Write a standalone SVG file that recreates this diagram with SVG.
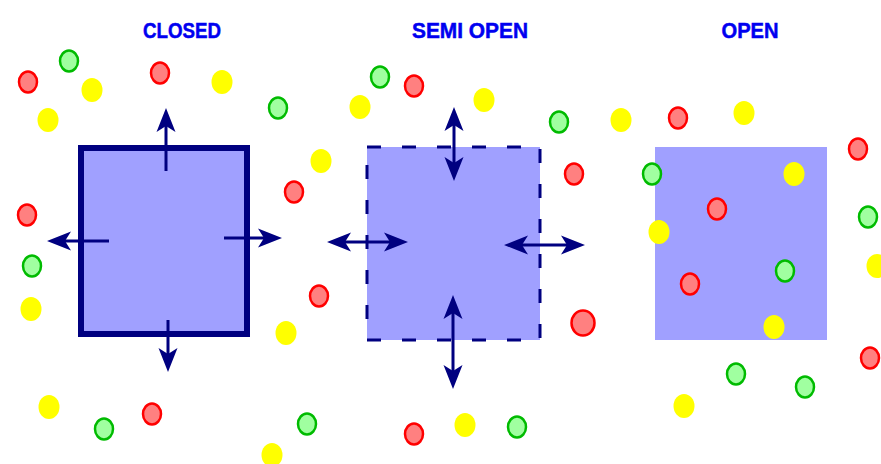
<svg xmlns="http://www.w3.org/2000/svg" width="881" height="464" viewBox="0 0 881 464">
<style>
.title{font-family:"Liberation Sans",Arial,sans-serif;font-weight:bold;font-size:22px;fill:#0000f0;stroke:#0000f0;stroke-width:0.5;text-anchor:middle}
.box{fill:#a0a0ff}
.r{fill:#ff8080;stroke:#ff0000;stroke-width:2.5}
.g{fill:#a0ffa0;stroke:#00bb00;stroke-width:2.5}
.y{fill:#ffff00}
.ar{stroke:#000080;stroke-width:3;fill:none}
</style>
<defs>
<marker id="head" markerUnits="userSpaceOnUse" markerWidth="40" markerHeight="40" viewBox="-20 -15 40 30" refX="0" refY="0" orient="auto-start-reverse" overflow="visible">
<path d="M8,0 L-16,-9.5 L-10,0 L-16,9.5 Z" fill="#000080"/>
</marker>
</defs>
<g id="closed">
<rect class="box" x="81" y="148" width="166" height="186" stroke="#000080" stroke-width="6"/>
<text class="title" x="182" y="38" textLength="78" lengthAdjust="spacingAndGlyphs">CLOSED</text>
</g>
<g id="semi-open">
<rect class="box" x="367" y="147" width="173" height="193" stroke="#000080" stroke-width="3" stroke-dasharray="14 21"/>
<text class="title" x="470" y="38" textLength="116" lengthAdjust="spacingAndGlyphs">SEMI OPEN</text>
</g>
<g id="open">
<rect class="box" x="655" y="147" width="172" height="193"/>
<text class="title" x="750" y="38" textLength="57" lengthAdjust="spacingAndGlyphs">OPEN</text>
</g>
<g id="connectors">
<line class="ar" x1="166" y1="171" x2="166" y2="116" marker-end="url(#head)"/>
<line class="ar" x1="109" y1="241" x2="55" y2="241" marker-end="url(#head)"/>
<line class="ar" x1="224" y1="238" x2="274" y2="238" marker-end="url(#head)"/>
<line class="ar" x1="168" y1="320" x2="168" y2="364" marker-end="url(#head)"/>
<line class="ar" x1="454" y1="115" x2="454" y2="173" marker-start="url(#head)" marker-end="url(#head)"/>
<line class="ar" x1="335" y1="242" x2="400" y2="242" marker-start="url(#head)" marker-end="url(#head)"/>
<line class="ar" x1="512" y1="245" x2="577" y2="245" marker-start="url(#head)" marker-end="url(#head)"/>
<line class="ar" x1="453" y1="303" x2="453" y2="381" marker-start="url(#head)" marker-end="url(#head)"/>
</g>
<g id="particles">
<ellipse class="r" cx="28" cy="82" rx="9" ry="10.5"/>
<ellipse class="g" cx="69" cy="61" rx="9" ry="10.5"/>
<ellipse class="y" cx="92" cy="90" rx="10.5" ry="12"/>
<ellipse class="y" cx="48" cy="120" rx="10.5" ry="12"/>
<ellipse class="r" cx="160" cy="73" rx="9" ry="10.5"/>
<ellipse class="y" cx="222" cy="82" rx="10.5" ry="12"/>
<ellipse class="g" cx="278" cy="108" rx="9" ry="10.5"/>
<ellipse class="r" cx="27" cy="215" rx="9" ry="10.5"/>
<ellipse class="g" cx="32" cy="266" rx="9" ry="10.5"/>
<ellipse class="y" cx="31" cy="309" rx="10.5" ry="12"/>
<ellipse class="r" cx="294" cy="192" rx="9" ry="10.5"/>
<ellipse class="y" cx="321" cy="161" rx="10.5" ry="12"/>
<ellipse class="r" cx="319" cy="296" rx="9" ry="10.5"/>
<ellipse class="y" cx="286" cy="333" rx="10.5" ry="12"/>
<ellipse class="y" cx="360" cy="107" rx="10.5" ry="12"/>
<ellipse class="g" cx="380" cy="77" rx="9" ry="10.5"/>
<ellipse class="r" cx="414" cy="86" rx="9" ry="10.5"/>
<ellipse class="y" cx="484" cy="100" rx="10.5" ry="12"/>
<ellipse class="g" cx="559" cy="122" rx="9" ry="10.5"/>
<ellipse class="r" cx="574" cy="174" rx="9" ry="10.5"/>
<ellipse class="r" cx="583" cy="323" rx="11.5" ry="12.5"/>
<ellipse class="y" cx="621" cy="120" rx="10.5" ry="12"/>
<ellipse class="r" cx="678" cy="118" rx="9" ry="10.5"/>
<ellipse class="y" cx="744" cy="113" rx="10.5" ry="12"/>
<ellipse class="r" cx="858" cy="149" rx="9" ry="10.5"/>
<ellipse class="g" cx="652" cy="174" rx="9" ry="10.5"/>
<ellipse class="y" cx="794" cy="174" rx="10.5" ry="12"/>
<ellipse class="r" cx="717" cy="209" rx="9" ry="10.5"/>
<ellipse class="g" cx="868" cy="217" rx="9" ry="10.5"/>
<ellipse class="y" cx="659" cy="232" rx="10.5" ry="12"/>
<ellipse class="y" cx="877" cy="266" rx="10.5" ry="12"/>
<ellipse class="g" cx="785" cy="271" rx="9" ry="10.5"/>
<ellipse class="r" cx="690" cy="284" rx="9" ry="10.5"/>
<ellipse class="y" cx="774" cy="327" rx="10.5" ry="12"/>
<ellipse class="r" cx="870" cy="358" rx="9" ry="10.5"/>
<ellipse class="g" cx="736" cy="374" rx="9" ry="10.5"/>
<ellipse class="g" cx="805" cy="387" rx="9" ry="10.5"/>
<ellipse class="y" cx="684" cy="406" rx="10.5" ry="12"/>
<ellipse class="y" cx="49" cy="407" rx="10.5" ry="12"/>
<ellipse class="g" cx="104" cy="429" rx="9" ry="10.5"/>
<ellipse class="r" cx="152" cy="414" rx="9" ry="10.5"/>
<ellipse class="g" cx="307" cy="424" rx="9" ry="10.5"/>
<ellipse class="y" cx="272" cy="455" rx="10.5" ry="12"/>
<ellipse class="r" cx="414" cy="434" rx="9" ry="10.5"/>
<ellipse class="y" cx="465" cy="425" rx="10.5" ry="12"/>
<ellipse class="g" cx="517" cy="427" rx="9" ry="10.5"/>
</g>
</svg>
